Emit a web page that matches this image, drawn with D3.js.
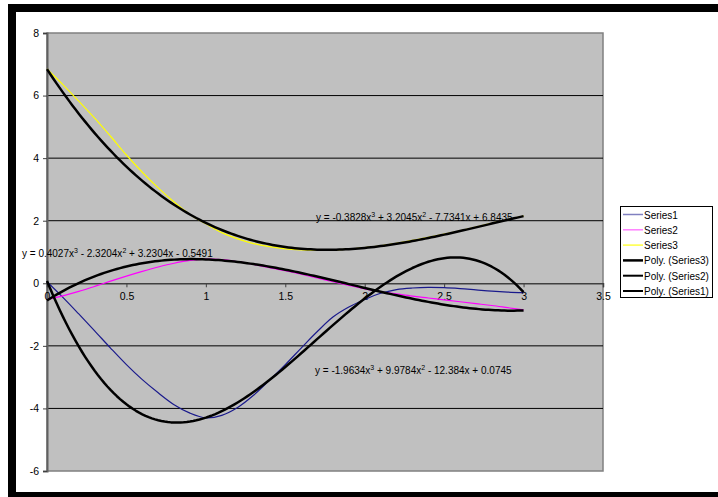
<!DOCTYPE html>
<html><head><meta charset="utf-8">
<script src="https://cdn.jsdelivr.net/npm/d3@7"></script>
<style>body{margin:0;background:#fff;} text{font-family:"Liberation Sans",Arial,sans-serif;}</style>
</head><body><svg id="c" width="718" height="497"></svg>
<script>
const xValues = [0,0.1,0.2,0.3,0.4,0.5,0.6,0.7,0.8,0.9,1.0,1.1,1.2,1.3,1.4,1.5,1.6,1.7,1.8,1.9,2.0,2.1,2.2,2.3,2.4,2.5,2.6,2.7,2.8,2.9,3.0];
const series1 = [0.05,-0.45,-0.98,-1.52,-2.07,-2.6,-3.08,-3.5,-3.88,-4.15,-4.3,-4.22,-3.97,-3.58,-3.1,-2.6,-2.07,-1.55,-1.08,-0.76,-0.52,-0.32,-0.2,-0.15,-0.13,-0.14,-0.17,-0.21,-0.25,-0.28,-0.30];
const series2 = [-0.52,-0.4,-0.26,-0.1,0.07,0.23,0.38,0.52,0.64,0.73,0.77,0.76,0.69,0.6,0.5,0.4,0.29,0.17,0.05,-0.07,-0.18,-0.27,-0.34,-0.41,-0.47,-0.53,-0.59,-0.65,-0.71,-0.78,-0.85];
const series3 = [6.85,6.35,5.82,5.28,4.7,4.1,3.55,3.05,2.6,2.2,1.9,1.62,1.42,1.27,1.17,1.1,1.07,1.06,1.06,1.09,1.14,1.2,1.28,1.37,1.47,1.57,1.68,1.8,1.92,2.04,2.15];
// trendline coefficients [a3, a2, a1, a0]
const trend1 = [-1.9634, 9.9784, -12.384, 0.0745];
const trend2 = [0.4027, -2.3204, 3.2304, -0.5491];
const trend3 = [-0.3828, 3.2045, -7.7341, 6.8435];
const yTicks = [-6,-4,-2,0,2,4,6,8];
const xTicks = [0,0.5,1,1.5,2,2.5,3,3.5];
const legendLabels = ["Series1","Series2","Series3","Poly. (Series3)","Poly. (Series2)","Poly. (Series1)"];

const FS = 10;
const svg = d3.select("#c");
// outer black frame
svg.append("rect").attr("x",12).attr("y",8).attr("width",720).attr("height",488)
  .attr("fill","#fff").attr("stroke","#000").attr("stroke-width",8);

const x = d3.scaleLinear().domain([0,3.5]).range([47,603]);
const y = d3.scaleLinear().domain([-6,8]).range([471,33]);

// plot area
svg.append("rect").attr("x",x(0)).attr("y",y(8)).attr("width",x(3.5)-x(0)).attr("height",y(-6)-y(8))
  .attr("fill","#c0c0c0").attr("stroke","#808080").attr("stroke-width",1.5);

// gridlines
svg.append("g").selectAll("line").data(yTicks.filter(d=>d!==0 && d!==8 && d!==-6)).join("line")
  .attr("x1",x(0)).attr("x2",x(3.5)).attr("y1",d=>y(d)).attr("y2",d=>y(d))
  .attr("stroke","#000").attr("stroke-width",1);

// y axis
const ya = svg.append("g").attr("transform",`translate(${x(0)},0)`)
  .call(d3.axisLeft(y).tickValues(yTicks).tickSize(4).tickPadding(4).tickFormat(d=>String(d)));
ya.select(".domain").attr("stroke","#606060").attr("stroke-width",2);
ya.selectAll(".tick line").attr("stroke","#404040");
ya.selectAll("text").attr("font-size",FS+0.5).attr("fill","#000").attr("font-family","Liberation Sans, Arial, sans-serif");

// x axis at y=0
const xa = svg.append("g").attr("transform",`translate(0,${y(0)})`)
  .call(d3.axisBottom(x).tickValues(xTicks).tickSize(4).tickPadding(5).tickFormat(d=>String(d)));
xa.select(".domain").attr("stroke","#404040").attr("stroke-width",1.5);
xa.selectAll(".tick line").attr("stroke","#404040");
xa.selectAll("text").attr("font-size",FS+0.5).attr("fill","#000").attr("font-family","Liberation Sans, Arial, sans-serif");

// series lines
const line = d3.line().x((d,i)=>x(xValues[i])).y(d=>y(d)).curve(d3.curveCatmullRom.alpha(0.5));
const seriesDefs = [[series1,"#1a1a8c"],[series2,"#ff00ff"],[series3,"#ffff00"]];
seriesDefs.forEach(([s,c])=>{
  svg.append("path").attr("d",line(s)).attr("fill","none").attr("stroke",c).attr("stroke-width",1.2);
});

// trendlines
const poly = c => xx => ((c[0]*xx + c[1])*xx + c[2])*xx + c[3];
const tx = d3.range(0,3.0001,0.02);
const tline = d3.line().x(d=>x(d[0])).y(d=>y(d[1]));
[trend3,trend2,trend1].forEach(c=>{
  const f = poly(c);
  svg.append("path").attr("d",tline(tx.map(v=>[v,f(v)]))).attr("fill","none")
    .attr("stroke","#000").attr("stroke-width",2.5).attr("stroke-linejoin","round");
});

// equation labels
function eqLabel(c, px, py){
  const t = svg.append("text").attr("x",px).attr("y",py).attr("font-size",FS).attr("fill","#000");
  const fmt = (v)=>String(Math.abs(v));
  const sign = (v)=> v<0 ? " - " : " + ";
  t.append("tspan").text("y = " + (c[0]<0?"-":"") + fmt(c[0]) + "x");
  t.append("tspan").attr("dy",-4).attr("font-size",7).text("3");
  t.append("tspan").attr("dy",4).text(sign(c[1]) + fmt(c[1]) + "x");
  t.append("tspan").attr("dy",-4).attr("font-size",7).text("2");
  t.append("tspan").attr("dy",4).text(sign(c[2]) + fmt(c[2]) + "x" + sign(c[3]) + fmt(c[3]));
}
eqLabel(trend2, 22, 257);
eqLabel(trend3, 316, 221);
eqLabel(trend1, 315, 374);

// legend
const lg = svg.append("g");
lg.append("rect").attr("x",620.5).attr("y",206.5).attr("width",92).attr("height",91)
  .attr("fill","#fff").attr("stroke","#000").attr("stroke-width",1);
const legColors = ["#8080c0","#ff80ff","#ffff40","#000","#000","#000"];
const legW = [1.5,1.5,1.5,2.5,2,2];
legendLabels.forEach((lab,i)=>{
  const yy = 214.5 + i*15.3;
  lg.append("line").attr("x1",623).attr("x2",643).attr("y1",yy).attr("y2",yy)
    .attr("stroke",legColors[i]).attr("stroke-width",legW[i]);
  lg.append("text").attr("x",644).attr("y",yy+4).attr("font-size",FS).attr("fill","#000").text(lab);
});
</script></body></html>
